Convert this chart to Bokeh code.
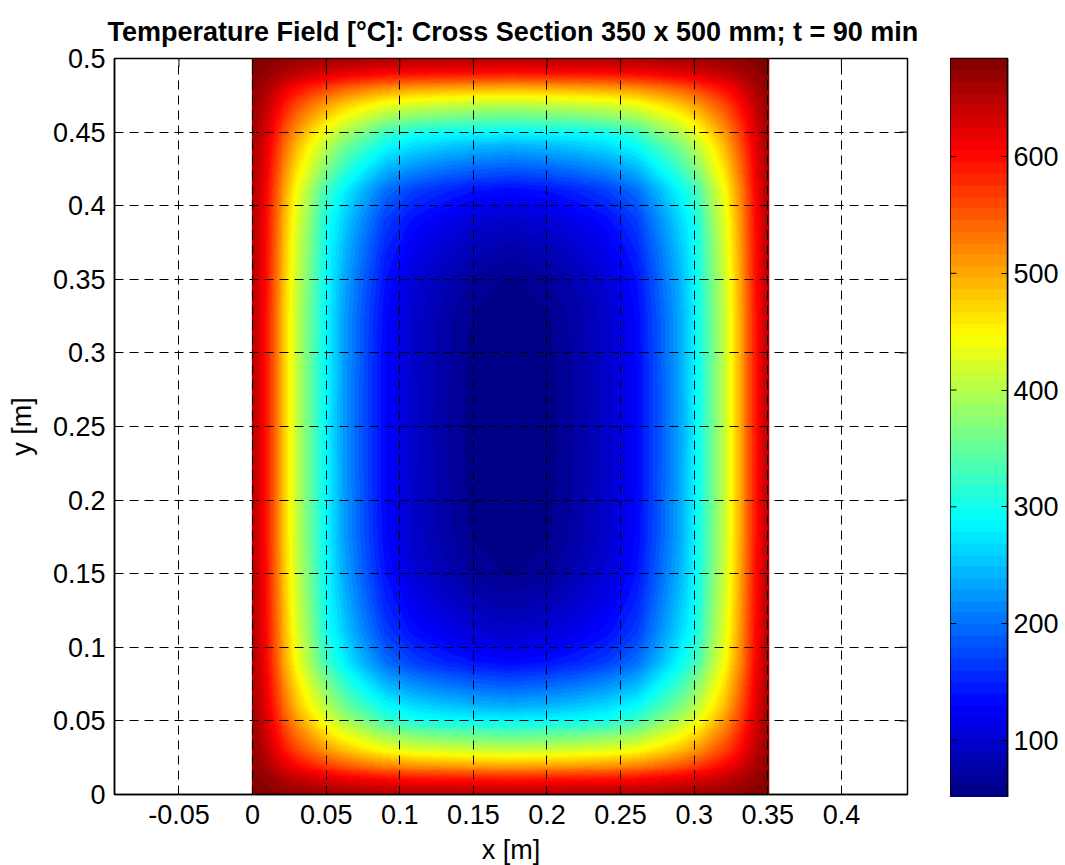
import numpy as np
from bokeh.plotting import figure
from bokeh.layouts import row
from bokeh.models import LinearColorMapper, FixedTicker, Range1d
from bokeh.embed import file_html
from bokeh.resources import INLINE

title_text = "Temperature Field [°C]: Cross Section 350 x 500 mm; t = 90 min"
x_ticks = [-0.05, 0, 0.05, 0.1, 0.15, 0.2, 0.25, 0.3, 0.35, 0.4]
x_labels = ["-0.05", "0", "0.05", "0.1", "0.15", "0.2", "0.25", "0.3", "0.35", "0.4"]
y_ticks = [0, 0.05, 0.1, 0.15, 0.2, 0.25, 0.3, 0.35, 0.4, 0.45, 0.5]
y_labels = ["0", "0.05", "0.1", "0.15", "0.2", "0.25", "0.3", "0.35", "0.4", "0.45", "0.5"]
cb_ticks = [100, 200, 300, 400, 500, 600]
t_min, t_max = 51, 684

# Distance from the section's edges [m], and temperatures (one quadrant)
dist_x = [0, .005, .01, .02, .03, .04, .05, .06, .075, .09, .11, .13, .15, .175]
dist_y = [0, .005, .01, .02, .03, .04, .05, .06, .075, .09, .11, .13, .15, .175, .21, .25]
temps = [
    [682, 681, 679, 674, 669, 666, 662, 660, 657, 654, 652, 651, 651, 650, 650, 650],
    [681, 679, 675, 666, 658, 652, 647, 642, 637, 632, 629, 628, 626, 625, 625, 625],
    [679, 675, 670, 656, 643, 633, 625, 617, 609, 601, 596, 594, 592, 590, 590, 590],
    [674, 666, 656, 627, 602, 583, 565, 550, 533, 518, 508, 503, 499, 496, 495, 495],
    [669, 658, 643, 602, 565, 537, 511, 489, 465, 443, 428, 421, 415, 411, 410, 410],
    [666, 652, 633, 583, 537, 502, 470, 443, 414, 387, 368, 359, 352, 347, 345, 345],
    [662, 647, 625, 565, 511, 470, 432, 401, 366, 325, 300, 293, 290, 287, 286, 285],
    [660, 642, 617, 550, 489, 443, 401, 365, 326, 290, 266, 254, 244, 238, 236, 235],
    [657, 637, 609, 533, 465, 414, 366, 326, 283, 242, 215, 201, 190, 183, 181, 180],
    [654, 632, 601, 518, 443, 387, 325, 290, 242, 198, 167, 152, 140, 132, 130, 130],
    [652, 629, 596, 508, 428, 368, 300, 266, 215, 167, 135, 119, 104, 97, 96, 95],
    [651, 628, 594, 503, 421, 359, 293, 254, 201, 152, 119, 100, 85, 76, 74, 73],
    [650, 626, 592, 499, 415, 352, 290, 244, 190, 140, 104, 85, 68, 59, 56, 55],
    [650, 625, 590, 496, 411, 347, 287, 238, 183, 132, 97, 76, 59, 54, 53, 52],
]


def jet(n=64):
    out = []
    for i in range(n):
        v = (i + 0.5) / n
        r = np.clip(min(4 * v - 1.5, -4 * v + 4.5), 0, 1)
        g = np.clip(min(4 * v - 0.5, -4 * v + 3.5), 0, 1)
        b = np.clip(min(4 * v + 0.5, -4 * v + 2.5), 0, 1)
        out.append("#%02x%02x%02x" % (int(r * 255), int(g * 255), int(b * 255)))
    return out


palette = jet(64)
mapper = LinearColorMapper(palette=palette, low=t_min, high=t_max)

# mirror the quadrant and shade it (like MATLAB's "shading interp")
T = np.array(temps, dtype=float)
T = np.vstack([T, T[-2::-1]])
T = np.hstack([T, T[:, -2::-1]])
dx = np.array(dist_x)
dy = np.array(dist_y)
xs = np.concatenate([dx, 0.35 - dx[-2::-1]])
ys = np.concatenate([dy, 0.5 - dy[-2::-1]])
xf = np.linspace(0, 0.35, 526)
yf = np.linspace(0, 0.5, 751)
a = np.array([np.interp(yf, ys, r) for r in T])
z = np.array([np.interp(xf, xs, c) for c in a.T])

FONT = "Liberation Sans"
SIZE = "27px"

x0, x1 = -0.0938, 0.4449
p = figure(frame_width=793, frame_height=736, output_backend="svg", toolbar_location=None,
           x_range=Range1d(x0, x1), y_range=Range1d(0, 0.5),
           min_border_left=114, min_border_top=58, min_border_right=43, min_border_bottom=65,
           x_axis_label="x [m]", y_axis_label="y [m]", title=title_text)
p.image(image=[z], x=-0.0005, y=0, dw=0.3515, dh=0.5, color_mapper=mapper)
p.title.text_font = FONT
p.title.text_font_size = "27px"
p.title.text_font_style = "bold"
p.title.align = "left"
p.title.offset = -7
p.title.standoff = 24
p.title.text_color = "black"
p.outline_line_color = "black"
p.outline_line_width = 1.5
p.outline_line_alpha = 1


def style(ax, ticks, overrides=None):
    ax.ticker = FixedTicker(ticks=ticks)
    ax.major_tick_in = 8
    ax.major_tick_out = 0
    ax.minor_tick_line_color = None
    ax.major_tick_line_color = "black"
    ax.major_tick_line_width = 1
    ax.axis_line_color = "black"
    ax.axis_line_width = 1.5
    ax.major_label_text_font = FONT
    ax.major_label_text_color = "black"
    ax.major_label_text_font_size = SIZE
    ax.axis_label_text_font = FONT
    ax.axis_label_text_font_size = SIZE
    ax.axis_label_text_font_style = "normal"
    ax.axis_label_text_color = "black"
    if overrides:
        ax.major_label_overrides = overrides


style(p.xaxis[0], x_ticks, dict(zip(x_ticks, x_labels)))
style(p.yaxis[0], y_ticks, dict(zip(y_ticks, y_labels)))
p.xaxis[0].major_label_standoff = 10
p.yaxis[0].major_label_standoff = 9
p.xaxis[0].axis_label_standoff = 8
p.yaxis[0].axis_label_standoff = 13

p.xgrid.ticker = FixedTicker(ticks=x_ticks)
p.ygrid.ticker = FixedTicker(ticks=y_ticks)
for g in (p.xgrid[0], p.ygrid[0]):
    g.level = "overlay"
    g.grid_line_color = "black"
    g.grid_line_width = 1
    g.grid_line_dash = "9 6"

# inward ticks on the top and right edges of the box
tick_x = 8 / 793 * (x1 - x0)
tick_y = 8 / 736 * 0.5
p.segment(x0=x_ticks, x1=x_ticks, y0=[0.5] * len(x_ticks), y1=[0.5 - tick_y] * len(x_ticks),
          line_color="black", line_width=1)
p.segment(x0=[x1] * len(y_ticks), x1=[x1 - tick_x] * len(y_ticks), y0=y_ticks, y1=y_ticks,
          line_color="black", line_width=1)

# colour bar
cb = figure(frame_width=57, frame_height=739, output_backend="svg", toolbar_location=None,
            x_range=Range1d(0, 1), y_range=Range1d(t_min, t_max),
            min_border_left=0, min_border_top=58, min_border_right=52, min_border_bottom=0,
            x_axis_location=None, y_axis_location="right")
levels = np.linspace(t_min, t_max, 65)
centres = ((levels[:-1] + levels[1:]) / 2).reshape(-1, 1)
cb.image(image=[centres], x=0, y=t_min, dw=1, dh=t_max - t_min, color_mapper=mapper)
cb.grid.visible = False
cb.outline_line_color = "black"
cb.outline_line_width = 1.5
cb.outline_line_alpha = 1
style(cb.yaxis[0], cb_ticks)
cb.yaxis[0].major_tick_in = 6
cb.yaxis[0].major_label_standoff = 6
cb.segment(x0=[0] * len(cb_ticks), x1=[6 / 57] * len(cb_ticks), y0=cb_ticks, y1=cb_ticks,
           line_color="black", line_width=1)

page = row(p, cb)
open("out.html", "w").write(file_html(page, INLINE))
